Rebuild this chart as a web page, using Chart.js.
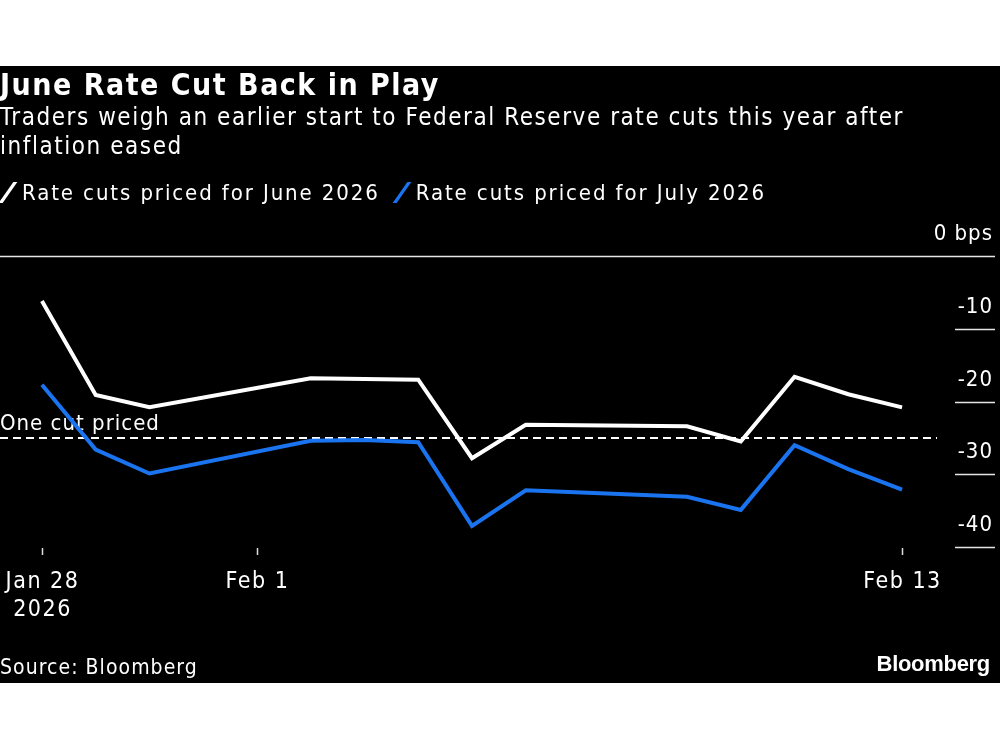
<!DOCTYPE html>
<html>
<head>
<meta charset="utf-8">
<script src="https://cdn.jsdelivr.net/npm/chart.js@4/dist/chart.umd.min.js"></script>
<style>
  html, body { margin: 0; padding: 0; background: #fff; width: 1000px; height: 750px; overflow: hidden; }
  #box { position: absolute; left: 0; top: 66px; width: 1000px; height: 617px; background: #000; color: #fff;
         font-family: "DejaVu Sans Condensed", "DejaVu Sans", sans-serif; }
  #box div { position: absolute; white-space: nowrap; }
  #title { left: 0; top: 1px; font-size: 30px; font-weight: bold; letter-spacing: 1.5px; }
  #sub { left: 0; top: 37px; font-size: 24px; line-height: 29px; letter-spacing: 1.55px; }
  #legend { left: 4px; top: 114px; font-size: 22px; letter-spacing: 1.9px; }
  #legend span.sw { display: inline-block; width: 4px; height: 21px; transform: skewX(-35deg); margin: 0 12px 0 10px; vertical-align: -3px; }
  #source { left: 0; top: 589px; font-size: 21px; letter-spacing: 1.05px; }
  #logo { right: 10px; top: 585px; font-size: 22px; font-weight: bold; font-family: "Liberation Sans", Arial, sans-serif; letter-spacing: -0.3px; }
  canvas { position: absolute; left: 0; top: 0; }
</style>
</head>
<body>
<div id="box">
  <canvas id="mychart" width="1000" height="617"></canvas>
  <div id="title">June Rate Cut Back in Play</div>
  <div id="sub">Traders weigh an earlier start to Federal Reserve rate cuts this year after<br>inflation eased</div>
  <div id="legend"><span class="sw" style="background:#fff;margin-left:2px"></span>Rate cuts priced for June 2026<span class="sw" style="background:#1a74f0;margin-left:20px"></span>Rate cuts priced for July 2026</div>
  <div id="source">Source: Bloomberg</div>
  <div id="logo">Bloomberg</div>
</div>
<script>
(() => {
    'use strict';

    // trading days shown
    var dates = ['2026-01-28', '2026-01-29', '2026-01-30', '2026-02-02', '2026-02-03', '2026-02-04',
                 '2026-02-05', '2026-02-06', '2026-02-09', '2026-02-10', '2026-02-11', '2026-02-12', '2026-02-13'];
    var june = [-6.2, -19.1, -20.8, -16.8, -16.9, -17.0, -27.8, -23.2, -23.4, -25.5, -16.6, -19.0, -20.8];
    var july = [-17.7, -26.6, -29.9, -25.4, -25.3, -25.6, -37.1, -32.2, -33.1, -34.9, -26.0, -29.3, -32.1];
    var yTicks = [0, -10, -20, -30, -40];
    var xTicks = [['2026-01-28', 'Jan 28', '2026'], ['2026-02-01', 'Feb 1'], ['2026-02-13', 'Feb 13']];
    var oneCut = -25;

    var start = Date.UTC(2026, 0, 28);
    function dayNo(s) {
        var p = s.split('-');
        return (Date.UTC(+p[0], +p[1] - 1, +p[2]) - start) / 86400000;
    }

    var font = '"DejaVu Sans Condensed", "DejaVu Sans", sans-serif';

    var decor = {
        id: 'decor',
        beforeDatasetsDraw: function(chart) {
            var ctx = chart.ctx, xs = chart.scales.x, ys = chart.scales.y;
            ctx.save();
            ctx.fillStyle = '#fff';
            ctx.strokeStyle = '#e6e6e6';
            ctx.font = '22px ' + font;
            ctx.letterSpacing = '1px';
            ctx.textAlign = 'right';
            ctx.textBaseline = 'alphabetic';
            yTicks.forEach(function(v) {
                var y = Math.round(ys.getPixelForValue(v)) + 0.5;
                ctx.lineWidth = 1.5;
                ctx.beginPath();
                ctx.moveTo(v === 0 ? 0 : 955, y);
                ctx.lineTo(995, y);
                ctx.stroke();
                ctx.fillText(v === 0 ? '0 bps' : '-' + (-v), 993, y - 17);
            });
            // x ticks
            ctx.textAlign = 'center';
            ctx.strokeStyle = '#ddd';
            ctx.lineWidth = 1.5;
            ctx.font = '23px ' + font;
            ctx.letterSpacing = '1.5px';
            xTicks.forEach(function(t) {
                var x = Math.round(xs.getPixelForValue(dayNo(t[0]))) + 0.5;
                var yb = chart.chartArea.bottom;
                ctx.beginPath();
                ctx.moveTo(x, yb + 1);
                ctx.lineTo(x, yb + 8);
                ctx.stroke();
                ctx.fillText(t[1], x, yb + 41);
                if (t[2]) ctx.fillText(t[2], x, yb + 69);
            });
            // one cut priced
            var yc = ys.getPixelForValue(oneCut);
            ctx.strokeStyle = '#fff';
            ctx.lineWidth = 2;
            ctx.setLineDash([8, 5]);
            ctx.beginPath();
            ctx.moveTo(0, yc);
            ctx.lineTo(chart.chartArea.right, yc);
            ctx.stroke();
            ctx.setLineDash([]);
            ctx.textAlign = 'left';
            ctx.font = '22px ' + font;
            ctx.letterSpacing = '1px';
            ctx.fillText('One cut priced', 0, yc - 8);
            ctx.restore();
        }
    };

    var $canvas = document.getElementById('mychart');
    var graph = new Chart($canvas, {
        type: 'line',
        data: {
            datasets: [{
                label: 'Rate cuts priced for June 2026',
                data: dates.map(function(d, i) { return {x: dayNo(d), y: june[i]}; }),
                borderColor: '#ffffff',
                borderWidth: 4,
                pointRadius: 0,
                tension: 0,
            }, {
                label: 'Rate cuts priced for July 2026',
                data: dates.map(function(d, i) { return {x: dayNo(d), y: july[i]}; }),
                borderColor: '#1a74f0',
                borderWidth: 4,
                pointRadius: 0,
                tension: 0,
            }],
        },
        options: {
            responsive: false,
            animation: false,
            layout: { padding: { left: 0, right: 63, top: 190, bottom: 136 } },
            plugins: { legend: { display: false }, tooltip: { enabled: false } },
            scales: {
                x: { type: 'linear', display: false, min: -0.78, max: 16.65 },
                y: { type: 'linear', display: false, min: -40, max: 0 },
            },
        },
        plugins: [decor],
    });
})();
</script>
</body>
</html>
